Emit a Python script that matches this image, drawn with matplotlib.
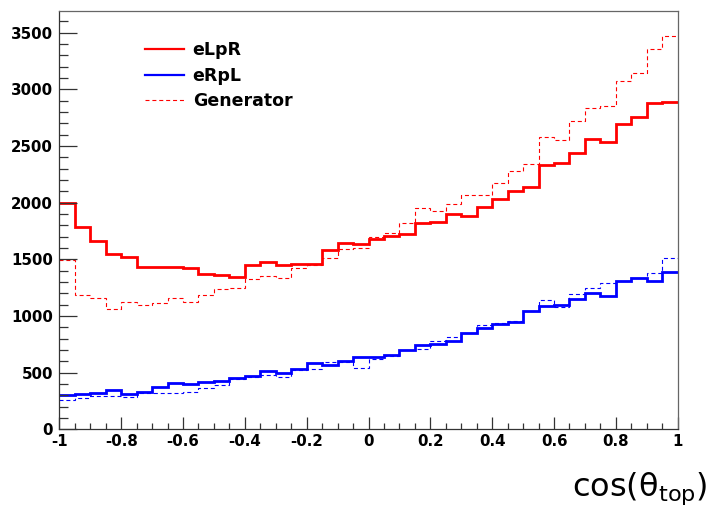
import numpy as np
import matplotlib
matplotlib.use("Agg")
import matplotlib.pyplot as plt
from matplotlib.lines import Line2D
from matplotlib.ticker import MultipleLocator

plt.rcParams['font.family'] = ['DejaVu Sans']
plt.rcParams['mathtext.default'] = 'regular'

# cos(theta_top) histogram: 40 bins over [-1, 1]
x_min, x_max, n_bins = -1.0, 1.0, 40

elpr = [1995, 1782, 1664, 1547, 1518, 1435, 1435, 1435, 1420, 1370,
        1359, 1347, 1447, 1475, 1450, 1457, 1457, 1582, 1647, 1635,
        1679, 1706, 1720, 1820, 1830, 1898, 1885, 1959, 2032, 2105,
        2141, 2332, 2347, 2441, 2559, 2535, 2691, 2758, 2876, 2888]

elpr_gen = [1494, 1185, 1161, 1059, 1126, 1097, 1117, 1158, 1126, 1188,
            1235, 1250, 1324, 1355, 1332, 1420, 1447, 1512, 1590, 1603,
            1694, 1729, 1823, 1950, 1929, 1992, 2067, 2067, 2171, 2282,
            2341, 2582, 2553, 2723, 2832, 2853, 3076, 3147, 3353, 3473]

erpl = [305, 309, 323, 347, 309, 329, 371, 406, 397, 415,
        426, 457, 470, 512, 497, 529, 582, 567, 605, 635,
        638, 656, 697, 741, 753, 782, 847, 891, 929, 944,
        1047, 1091, 1097, 1150, 1200, 1179, 1309, 1338, 1309, 1391]

erpl_gen = [262, 275, 295, 297, 288, 323, 323, 318, 332, 367,
            391, 444, 462, 476, 464, 520, 535, 590, 592, 544,
            623, 647, 700, 712, 782, 817, 853, 920, 935, 959,
            1044, 1141, 1082, 1194, 1244, 1288, 1309, 1338, 1382, 1514]

x_ticks = [-1, -0.8, -0.6, -0.4, -0.2, 0, 0.2, 0.4, 0.6, 0.8, 1]
x_tick_labels = ['-1', '-0.8', '-0.6', '-0.4', '-0.2', '0', '0.2', '0.4', '0.6', '0.8', '1']
y_ticks = [0, 500, 1000, 1500, 2000, 2500, 3000, 3500]

legend_labels = ['eLpR', 'eRpL', 'Generator']

RED = '#ff0000'
BLUE = '#0000ff'
AXC = '#333333'
DASH = (0, (3.6, 2.6))

W, H = 708, 508
fig = plt.figure(figsize=(W / 100, H / 100), dpi=100)
ax = fig.add_axes([59.3 / W, 1 - 429.3 / H, (677.7 - 59.3) / W, (429.3 - 10.7) / H])

edges = np.linspace(x_min, x_max, n_bins + 1)

ax.stairs(elpr_gen, edges, baseline=None, color=RED, lw=0.8, linestyle=DASH)
ax.stairs(erpl_gen, edges, baseline=None, color=BLUE, lw=0.8, linestyle=DASH)
ax.stairs(elpr, edges, baseline=None, color=RED, lw=2.0)
ax.stairs(erpl, edges, baseline=None, color=BLUE, lw=2.0)

ax.set_xlim(x_min, x_max)
ax.set_ylim(0, 3695)

ax.set_xticks(x_ticks)
ax.set_xticklabels(x_tick_labels)
ax.set_yticks(y_ticks)
ax.xaxis.set_minor_locator(MultipleLocator(0.05))
ax.yaxis.set_minor_locator(MultipleLocator(100))

ax.tick_params(axis='both', which='both', direction='in', color=AXC, width=0.9,
               top=False, right=False)
ax.tick_params(axis='y', which='major', length=13.3, pad=4.6, labelsize=10.8)
ax.tick_params(axis='y', which='minor', length=6.7)
ax.tick_params(axis='x', which='major', length=9.0, pad=3.6, labelsize=10.8)
ax.tick_params(axis='x', which='minor', length=4.5)
for lab in ax.get_xticklabels() + ax.get_yticklabels():
    lab.set_fontweight('bold')

for s in ax.spines.values():
    s.set_color(AXC)
    s.set_linewidth(0.9)
ax.spines['top'].set_color('#666666')
ax.spines['right'].set_color('#666666')

handles = [Line2D([], [], color=RED, lw=1.6),
           Line2D([], [], color=BLUE, lw=1.6),
           Line2D([], [], color=RED, lw=0.8, linestyle=DASH)]
leg = ax.legend(handles, legend_labels, loc='upper left',
                bbox_to_anchor=((145 - 59.3) / 618.4, (429.3 - 41) / 418.6),
                frameon=False, borderpad=0, borderaxespad=0,
                handlelength=2.25, handletextpad=0.5, labelspacing=0.44,
                prop={'family': 'DejaVu Sans', 'weight': 'bold', 'size': 12.5})

fig.text(707 / W, 1 - 496 / H, r'cos($\theta_{top}$)', ha='right', va='baseline',
         fontsize=23, family='DejaVu Sans')

fig.savefig('out.png', dpi=100)
